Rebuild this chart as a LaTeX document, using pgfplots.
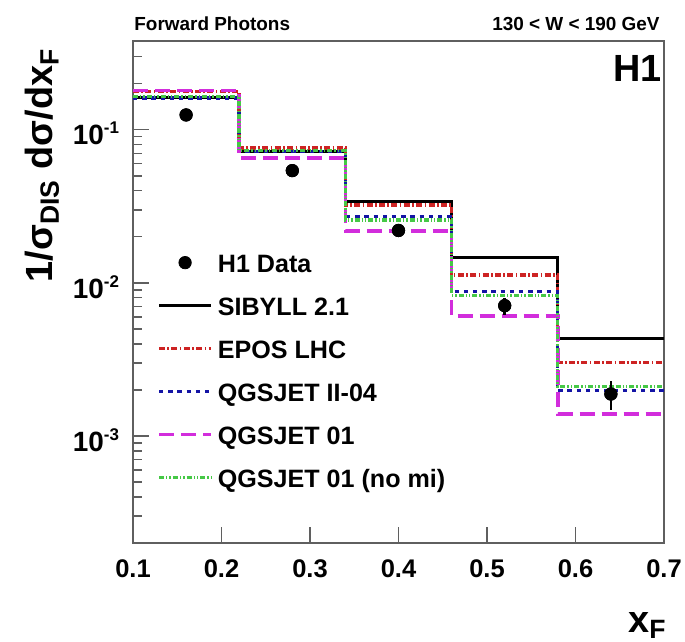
\documentclass[border=0pt]{standalone}
\usepackage{fontspec}
\setmainfont{Liberation Sans}
\usepackage{pgfplots}
\pgfplotsset{compat=1.18}
\usepackage{pgfplotstable}

\definecolor{eposred}{RGB}{205,35,35}
\definecolor{qgsblue}{RGB}{20,20,165}
\definecolor{qgsmag}{RGB}{210,45,220}
\definecolor{nomigreen}{RGB}{70,200,70}
\definecolor{framegray}{RGB}{95,95,95}

% model predictions, 1/sigma_DIS dsigma/dx_F per x_F bin (left edges; last row closes the final bin)
\pgfplotstableread{
x     sib     epos    qgsii   qgsi    nomi
0.10  0.163   0.178   0.161   0.180   0.165
0.22  0.0721  0.0759  0.0721  0.0652  0.0730
0.34  0.0340  0.0322  0.0272  0.0219  0.0258
0.46  0.0146  0.01125 0.00875 0.00606 0.0083
0.58  0.00433 0.00303 0.00198 0.00139 0.00210
0.70  0.00433 0.00303 0.00198 0.00139 0.00210
}\models

% H1 measurement at the bin centres
\pgfplotstableread{
x     y       err
0.16  0.125   0.004
0.28  0.0541  0.002
0.40  0.0220  0.0012
0.52  0.0071  0.0009
0.64  0.00188 0.0004
}\hone

\newcommand{\expo}[1]{10\raisebox{0.75ex}{\fontsize{8.5}{9}\selectfont #1}}

\pgfplotsset{
  histleg/.style={legend image code/.code={\draw[##1] (0bp,1.5bp) -- (26bp,1.5bp);}},
  datleg/.style={legend image code/.code={\draw[##1,mark repeat=2,mark phase=2] plot coordinates {(0bp,1.5bp) (13bp,1.5bp) (26bp,1.5bp)};}},
}

\begin{document}
\begin{tikzpicture}
\path[use as bounding box] (-66.5bp,-49.5bp) rectangle (276bp,271.5bp);
\begin{axis}[
  at={(0,0)}, anchor=south west,
  scale only axis, width=265.5bp, height=251bp,
  ymode=log,
  xmin=0.1, xmax=0.7, ymin=2e-4, ymax=0.38,
  xtick={0.1,0.2,0.3,0.4,0.5,0.6,0.7},
  xticklabels={0.1,0.2,0.3,0.4,0.5,0.6,0.7},
  ytick={1e-3,1e-2,1e-1},
  yticklabels={\expo{-3},\expo{-2},\expo{-1}},
  minor ytick={2e-4,3e-4,4e-4,5e-4,6e-4,7e-4,8e-4,9e-4,
               2e-3,3e-3,4e-3,5e-3,6e-3,7e-3,8e-3,9e-3,
               2e-2,3e-2,4e-2,5e-2,6e-2,7e-2,8e-2,9e-2,0.2,0.3},
  tick align=inside, tick pos=left,
  major tick length=8bp, minor tick length=4.5bp,
  axis line style={draw=framegray, line width=0.9bp},
  tick style={draw=framegray, line width=0.7bp},
  x tick label style={yshift=-5bp, font=\bfseries\fontsize{12.8}{14}\selectfont},
  y tick label style={xshift=-3.5bp, yshift=-2bp, font=\bfseries\fontsize{14}{16}\selectfont},
  clip=false,
  legend cell align=left,
  legend style={draw=none, fill=none, at={(0.045,0.578)}, anchor=north west,
    font=\bfseries\fontsize{12.6}{14}\selectfont,
    row sep=9.1bp, column sep=2.5bp, inner sep=0pt,
    nodes={inner sep=0pt, text height=9.4bp, text depth=3bp}},
]
% data first for the legend order, drawn again on top below
\addplot[only marks, mark=*, mark size=3.1bp, black, datleg]
  table[x=x, y=y] {\hone};
\addlegendentry{H1 Data}
\addplot[const plot, black, line width=1.5bp, histleg] table[x=x, y=sib] {\models};
\addlegendentry{SIBYLL 2.1}
\addplot[const plot, eposred, line width=1.7bp, dash pattern=on 3bp off 1.2bp on 0.8bp off 1.2bp, histleg]
  table[x=x, y=epos] {\models};
\addlegendentry{EPOS LHC}
\addplot[const plot, qgsblue, line width=1.7bp, dash pattern=on 2.2bp off 2.4bp, histleg]
  table[x=x, y=qgsii] {\models};
\addlegendentry{QGSJET II-04}
\addplot[const plot, qgsmag, line width=1.8bp, dash pattern=on 7.5bp off 3.5bp, histleg]
  table[x=x, y=qgsi] {\models};
\addlegendentry{QGSJET 01}
\addplot[const plot, nomigreen, line width=1.7bp, dash pattern=on 2.5bp off 1bp on 0.7bp off 1bp on 0.7bp off 1bp, histleg]
  table[x=x, y=nomi] {\models};
\addlegendentry{QGSJET 01 (no mi)}
\addplot[only marks, mark=*, mark size=3.1bp, black, forget plot,
  error bars/.cd, y dir=both, y explicit,
  error bar style={line width=1.2bp, black}, error mark=none]
  table[x=x, y=y, y error=err] {\hone};
\end{axis}
\node[anchor=base west, inner sep=0pt, font=\bfseries\fontsize{9.5}{11}\selectfont] at (0.5bp,256bp) {Forward Photons};
\node[anchor=base east, inner sep=0pt, font=\bfseries\fontsize{9.5}{11}\selectfont] at (263.5bp,256bp) {130 < W < 190 GeV};
\node[anchor=north east, inner sep=0pt, font=\bfseries\fontsize{19}{22}\selectfont] at (264.5bp,244bp) {H1};
\node[rotate=90, anchor=mid east, inner sep=0pt, font=\bfseries\fontsize{19}{22}\selectfont]
  at (-43bp,247.5bp) {1/σ\textsubscript{DIS} dσ/dx\textsubscript{F}};
\node[anchor=base east, inner sep=0pt, font=\bfseries\fontsize{19}{22}\selectfont]
  at (267bp,-44.5bp) {x\textsubscript{F}};
\end{tikzpicture}
\end{document}
